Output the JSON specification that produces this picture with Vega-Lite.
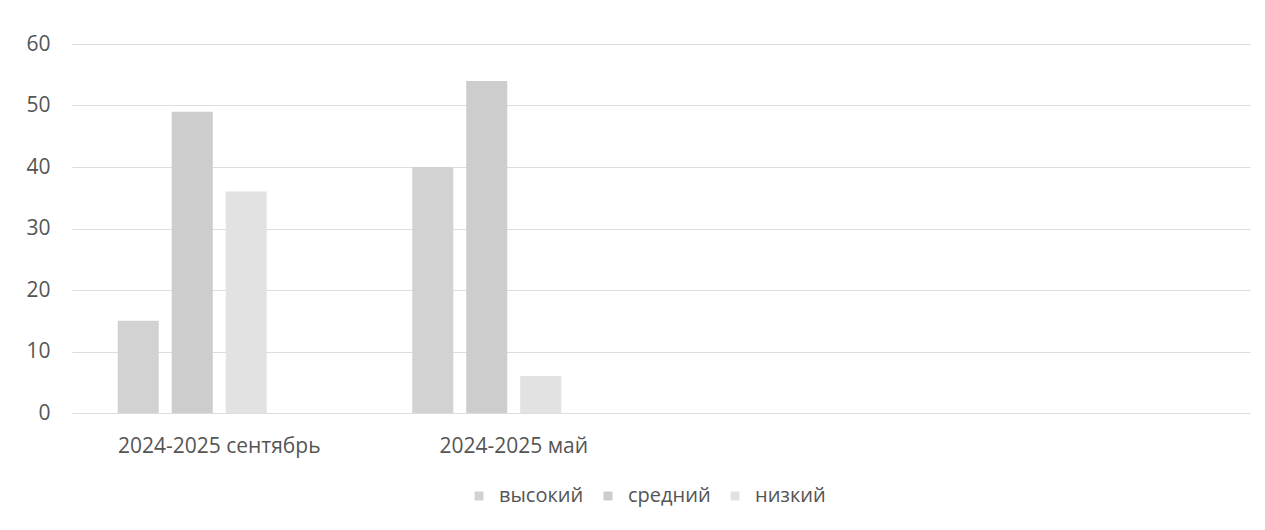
{
  "$schema": "https://vega.github.io/schema/vega-lite/v6.json",
  "autosize": {"type": "none"},
  "padding": {"left": 72, "top": 44, "right": 15, "bottom": 117},
  "width": 1178,
  "height": 369,
  "background": "white",
  "config": {
    "view": {"stroke": null},
    "font": "Open Sans"
  },
  "data": {
    "values": [
      {"period": "2024-2025 сентябрь", "level": "высокий", "value": 15},
      {"period": "2024-2025 сентябрь", "level": "средний", "value": 49},
      {"period": "2024-2025 сентябрь", "level": "низкий", "value": 36},
      {"period": "2024-2025 май", "level": "высокий", "value": 40},
      {"period": "2024-2025 май", "level": "средний", "value": 54},
      {"period": "2024-2025 май", "level": "низкий", "value": 6}
    ]
  },
  "mark": {"type": "bar"},
  "encoding": {
    "x": {
      "field": "period",
      "type": "nominal",
      "sort": null,
      "scale": {"domain": ["2024-2025 сентябрь", "2024-2025 май", "c3", "c4"], "paddingInner": 0, "paddingOuter": 0},
      "axis": {
        "title": null,
        "labelAngle": 0,
        "domain": false,
        "ticks": false,
        "grid": false,
        "labelPadding": 22,
        "labelFontSize": 21,
        "labelLimit": 0,
        "labelColor": "#555555",
        "labelExpr": "datum.value == 'c3' || datum.value == 'c4' ? '' : datum.label"
      }
    },
    "xOffset": {
      "field": "level",
      "type": "nominal",
      "scale": {"domain": ["высокий", "средний", "низкий", "пусто"], "paddingInner": 0.24, "paddingOuter": 0.847}
    },
    "y": {
      "field": "value",
      "type": "quantitative",
      "scale": {"domain": [0, 60], "nice": false},
      "axis": {
        "title": null,
        "values": [0, 10, 20, 30, 40, 50, 60],
        "domain": false,
        "ticks": false,
        "labelPadding": 22,
        "labelFontSize": 21,
        "labelColor": "#555555",
        "gridColor": "#dddddd",
        "gridWidth": 1
      }
    },
    "color": {
      "field": "level",
      "type": "nominal",
      "scale": {"domain": ["высокий", "средний", "низкий"], "range": ["#d2d2d2", "#cdcdcd", "#e2e2e2"]},
      "legend": {
        "title": null,
        "orient": "none",
        "legendX": 397,
        "legendY": 442,
        "direction": "horizontal",
        "symbolType": "square",
        "symbolSize": 81,
        "symbolStrokeWidth": 0,
        "labelFontSize": 20,
        "labelColor": "#555555",
        "labelOffset": 10,
        "columnPadding": 14
      }
    }
  }
}
